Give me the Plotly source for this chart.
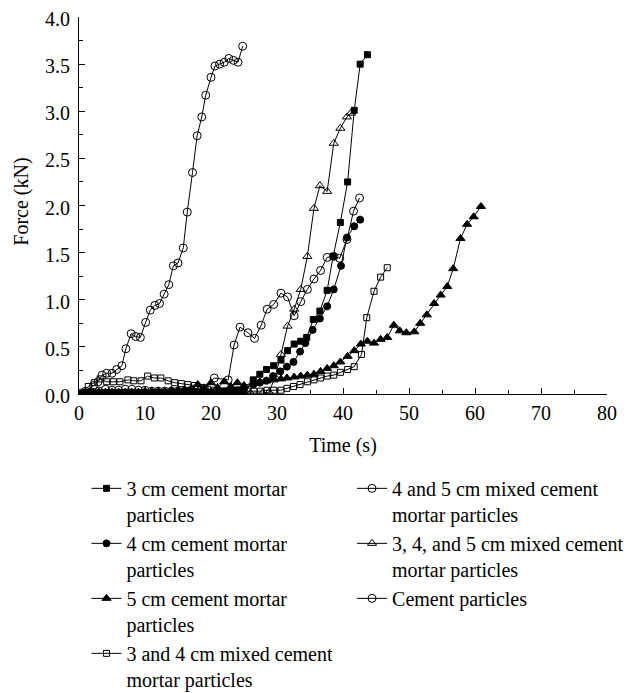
import plotly.graph_objects as go

# ---------------- data ----------------
names = [
    "3 cm cement mortar<br>particles",
    "4 cm cement mortar<br>particles",
    "5 cm cement mortar<br>particles",
    "3 and 4 cm mixed cement<br>mortar particles",
    "4 and 5 cm mixed cement<br>mortar particles",
    "3, 4, and 5 cm mixed cement<br>mortar particles",
    "Cement particles",
]

t_3cm = [0, 1, 2, 3, 4, 5, 6, 7, 8, 9, 10, 11, 12, 13, 14, 15, 16, 17, 18, 19, 20, 21, 22, 23, 24, 25,
         26.4, 27.4, 28.4, 29.5, 30.6, 31.6, 32.6, 33.6, 34.5, 35.5, 36.5, 37.6, 38.5, 39.6, 40.7,
         41.7, 42.6, 43.7]
f_3cm = [0, 0.01, 0.01, 0.01, 0.01, 0.01, 0.01, 0.01, 0.01, 0.01, 0.01, 0.01, 0.01, 0.01, 0.01, 0.01,
         0.01, 0.01, 0.01, 0.01, 0.01, 0.01, 0.01, 0.01, 0.01, 0.02,
         0.15, 0.21, 0.26, 0.30, 0.36, 0.46, 0.53, 0.56, 0.60, 0.79, 0.88, 1.10, 1.46, 1.82, 2.25,
         3.01, 3.50, 3.60]

t_4cm = [0, 1, 2, 3, 4, 5, 6, 7, 8, 9, 10, 11, 12, 13, 14, 15, 16, 17, 18, 19, 20, 21, 22, 23, 24, 25,
         26.4, 27.4, 28.4, 29.4, 30.5, 31.5, 32.5, 33.5, 34.3, 35.4, 36.5, 37.6, 38.6, 39.7, 40.6,
         41.7, 42.6]
f_4cm = [0, 0.01, 0.01, 0.01, 0.01, 0.01, 0.01, 0.01, 0.01, 0.01, 0.01, 0.01, 0.01, 0.01, 0.01, 0.01,
         0.02, 0.02, 0.02, 0.02, 0.02, 0.02, 0.03, 0.03, 0.04, 0.06,
         0.10, 0.12, 0.14, 0.19, 0.24, 0.29, 0.34, 0.45, 0.54, 0.68, 0.80, 0.93, 1.11, 1.36, 1.66,
         1.78, 1.85]

t_5cm = [0, 1, 2, 3, 4, 5, 6, 7, 8, 9, 10, 11, 12, 13, 14, 15, 16, 17, 18, 19, 20, 21, 22, 23, 24, 25,
         26.4, 27.4, 28.4, 29.5, 30.6, 31.5, 32.6, 33.6, 34.6, 35.6, 36.6, 37.6, 38.6, 39.6, 40.7,
         41.7, 42.7, 43.7, 44.7, 45.7, 46.7, 47.7, 48.6, 49.6, 50.8, 51.7, 52.7, 53.8, 54.8, 55.8,
         56.7, 57.8, 58.8, 59.8, 60.9]
f_5cm = [0, 0.01, 0.01, 0.02, 0.02, 0.02, 0.02, 0.02, 0.02, 0.02, 0.03, 0.03, 0.03, 0.03, 0.04, 0.04,
         0.05, 0.05, 0.10, 0.06, 0.12, 0.07, 0.13, 0.08, 0.12, 0.09,
         0.12, 0.13, 0.14, 0.15, 0.16, 0.17, 0.18, 0.19, 0.20, 0.21, 0.24, 0.27, 0.30, 0.34, 0.40,
         0.46, 0.53, 0.56, 0.54, 0.58, 0.60, 0.73, 0.67, 0.65, 0.66, 0.75, 0.84, 0.96, 1.05, 1.14,
         1.33, 1.65, 1.80, 1.88, 1.99]

t_34 = [0, 0.6, 1.4, 2.3, 3.2, 4.2, 5.2, 6.2, 7.4, 8.3, 9.4, 10.4, 11.4, 12.4, 13.5, 14.5, 15.5, 16.5,
        17.5, 18.5, 19.5, 20.5, 21.5, 22.5, 23.5, 24.5, 25.5, 26.5, 27.5, 28.5, 29.5, 30.6, 31.5,
        32.5, 33.5, 34.6, 35.6, 36.6, 37.6, 38.6, 39.6, 40.7, 41.7, 42.8, 43.6, 44.7, 45.7, 46.7]
f_34 = [0, 0.02, 0.08, 0.12, 0.16, 0.13, 0.13, 0.13, 0.15, 0.14, 0.14, 0.19, 0.17, 0.17, 0.14, 0.12,
        0.11, 0.10, 0.09, 0.07, 0.05, 0.04, 0.03, 0.03, 0.04, 0.04, 0.03, 0.03, 0.03, 0.04, 0.04,
        0.04, 0.06, 0.08, 0.10, 0.13, 0.15, 0.17, 0.19, 0.20, 0.23, 0.26, 0.29, 0.42, 0.81, 1.09,
        1.24, 1.34]

t_45 = [0, 1, 2, 3, 4, 5, 6, 7, 8, 9, 10, 11, 12, 13, 14, 15, 16, 17, 18, 19, 20.5, 22.6, 23.5, 24.4,
        25.6, 26.6, 27.6, 28.5, 29.5, 30.6, 31.6, 32.6, 33.6, 34.6, 35.6, 36.6, 37.6, 38.6, 39.5,
        40.6, 41.6, 42.5]
f_45 = [0, 0.01, 0.02, 0.03, 0.05, 0.04, 0.04, 0.05, 0.05, 0.04, 0.04, 0.03, 0.03, 0.03, 0.03, 0.03,
        0.03, 0.04, 0.05, 0.06, 0.17, 0.15, 0.52, 0.71, 0.65, 0.59, 0.73, 0.90, 0.95, 1.07, 1.03,
        0.83, 0.98, 1.11, 1.22, 1.31, 1.45, 1.46, 1.44, 1.64, 1.94, 2.08]

t_345 = [0, 2, 4, 6, 8, 10, 12, 14, 16, 18, 20, 22, 24, 26, 27.8, 28.8, 29.7, 30.6, 31.6, 32.6, 33.6,
         34.6, 35.6, 36.5, 37.6, 38.6, 39.6, 40.6, 41.2]
f_345 = [0, 0.01, 0.01, 0.01, 0.01, 0.01, 0.01, 0.01, 0.01, 0.01, 0.01, 0.01, 0.01, 0.01, 0.01, 0.02,
         0.18, 0.42, 0.72, 0.90, 1.11, 1.46, 1.97, 2.21, 2.15, 2.66, 2.82, 2.94, 2.98]

t_cem = [0, 1.0, 2.2, 2.9, 3.5, 4.2, 5.0, 5.7, 6.5, 7.1, 7.9, 8.6, 9.3, 10.1, 10.8, 11.5, 12.2, 12.9,
         13.6, 14.3, 15.0, 15.8, 16.4, 17.2, 17.9, 18.6, 19.2, 20.0, 20.6, 21.3, 22.0, 22.7, 23.4,
         24.1, 24.8]
f_cem = [0, 0.03, 0.09, 0.13, 0.20, 0.22, 0.22, 0.26, 0.30, 0.48, 0.64, 0.61, 0.60, 0.76, 0.89, 0.94,
         0.96, 1.06, 1.16, 1.36, 1.39, 1.55, 1.93, 2.35, 2.74, 2.94, 3.17, 3.36, 3.48, 3.50, 3.52,
         3.56, 3.54, 3.52, 3.69]

x_ticks = [0, 10, 20, 30, 40, 50, 60, 70, 80]
y_ticks = [0.0, 0.5, 1.0, 1.5, 2.0, 2.5, 3.0, 3.5, 4.0]
y_title = "Force (kN)"
x_title = "Time (s)"

# ---------------- figure ----------------
FONT = "Liberation Serif"
series = [
    (t_3cm, f_3cm, "square", 6, "legend"),
    (t_4cm, f_4cm, "circle", 7, "legend"),
    (t_5cm, f_5cm, "triangle-up", 8, "legend"),
    (t_34, f_34, "square-open", 6, "legend"),
    (t_45, f_45, "circle-open", 8, "legend2"),
    (t_345, f_345, "triangle-up-open", 8, "legend2"),
    (t_cem, f_cem, "circle-open", 8, "legend2"),
]

fig = go.Figure()
for (xs, ys, sym, sz, lg), nm in zip(series, names):
    fig.add_trace(go.Scatter(
        x=xs, y=ys, mode="lines+markers", name=nm, legend=lg,
        line=dict(color="black", width=1),
        marker=dict(symbol=sym, size=sz, color="black", line=dict(color="black", width=1)),
    ))

axis_common = dict(
    showline=True, linecolor="black", linewidth=1, showgrid=False, zeroline=False,
    ticks="inside", ticklen=6, tickcolor="black", tickwidth=1,
    ticklabeloverflow="allow",
    tickfont=dict(family=FONT, size=20, color="black"),
)

leg_common = dict(xanchor="left", yanchor="top", xref="container", yref="container",
                  bgcolor="rgba(0,0,0,0)", font=dict(family=FONT, size=20),
                  tracegroupgap=0, itemwidth=30, valign="top")

fig.update_layout(
    width=633, height=693,
    margin=dict(l=71, r=34, t=9, b=307, autoexpand=False),
    paper_bgcolor="white", plot_bgcolor="white",
    font=dict(family=FONT, size=20, color="black"),
    xaxis=dict(range=[0, 80], tickvals=x_ticks, ticktext=[str(v) for v in x_ticks],
               title=dict(text=x_title, font=dict(family=FONT, size=20), standoff=14),
               minor=dict(dtick=5, ticks="inside", ticklen=4, tickcolor="black"),
               ticklabelstandoff=1,
               **axis_common),
    yaxis=dict(range=[0, 4], tickvals=y_ticks, ticktext=[f"{v:.1f}\u2009" for v in y_ticks],
               minor=dict(dtick=0.25, ticks="inside", ticklen=4, tickcolor="black"),
               ticklabelshift=2,
               **axis_common),
    annotations=[dict(text=y_title, xref="paper", yref="paper", x=-0.108, y=0.51,
                      xanchor="center", yanchor="middle", textangle=-90, showarrow=False,
                      font=dict(family=FONT, size=20, color="black"))],
    legend=dict(x=0.124, y=0.335, **leg_common),
    legend2=dict(x=0.5435, y=0.335, **leg_common),
    showlegend=True,
)

fig.write_html("out.html")
